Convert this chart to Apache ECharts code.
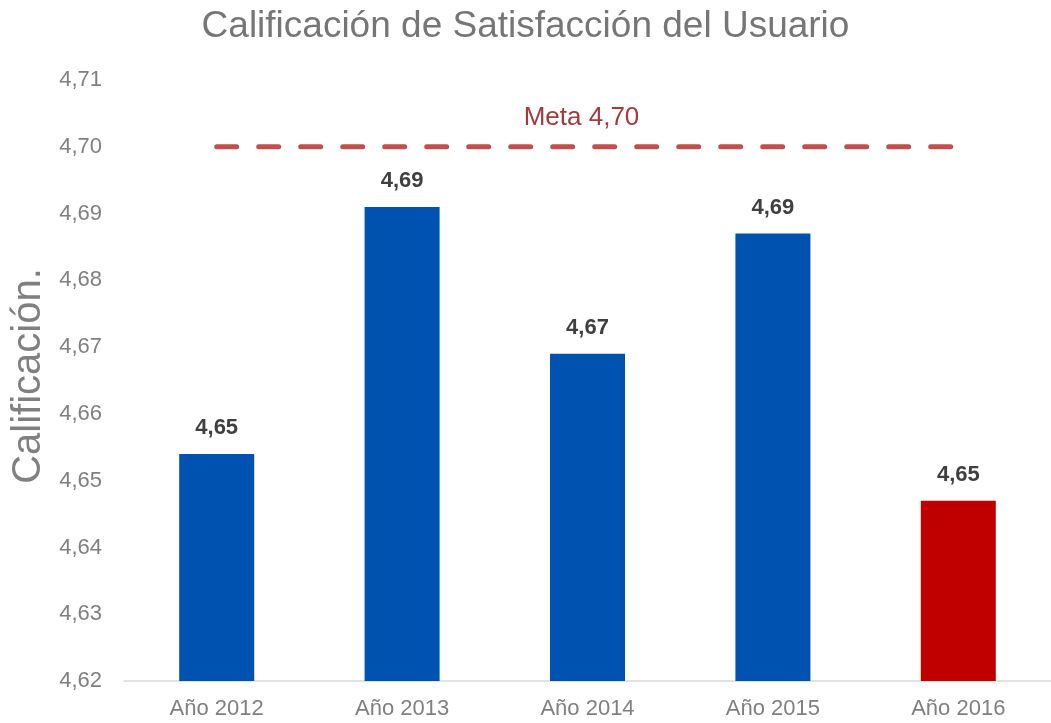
<!DOCTYPE html>
<html>
<head>
<meta charset="utf-8">
<script src="https://cdn.jsdelivr.net/npm/echarts@6/dist/echarts.min.js"></script>
<style>
  html, body { margin: 0; padding: 0; background: #fff; }
  #chart { width: 1051px; height: 723px; }
</style>
</head>
<body>
<div id="chart"></div>
<script>
// datos
var categorias = ['Año 2012', 'Año 2013', 'Año 2014', 'Año 2015', 'Año 2016'];
var calificaciones = [4.654, 4.691, 4.669, 4.687, 4.647];
var meta = [4.70, 4.70, 4.70, 4.70, 4.70];
var colores = ['#0052B0', '#0052B0', '#0052B0', '#0052B0', '#C00000'];

var chart = echarts.init(document.getElementById('chart'));

function coma(v, d) {
    return v.toFixed(d).replace('.', ',');
}

var barData = [];
for (var i = 0; i < calificaciones.length; i++) {
    barData.push({ value: calificaciones[i], itemStyle: { color: colores[i] } });
}

// la etiqueta "Meta 4,70" va sobre el punto central de la linea
var metaData = [];
for (var j = 0; j < meta.length; j++) {
    if (j == 2) {
        metaData.push({
            value: meta[j],
            label: {
                show: true,
                position: 'top',
                formatter: 'Meta 4,70',
                color: '#A33B3B',
                fontSize: 26,
                distance: 16,
                offset: [-6, 0]
            }
        });
    } else {
        metaData.push(meta[j]);
    }
}

var option = {
    animation: false,
    textStyle: { fontFamily: 'Liberation Sans, Arial, sans-serif' },
    title: {
        text: 'Calificación de Satisfacción del Usuario',
        left: 'center',
        top: 3,
        textStyle: { color: '#767676', fontSize: 37, fontWeight: 'normal' }
    },
    graphic: [{
        type: 'text',
        x: 9,
        y: 376,
        rotation: Math.PI / 2,
        style: {
            text: 'Calificación.',
            fill: '#808080',
            fontSize: 40,
            fontFamily: 'Liberation Sans, Arial, sans-serif',
            align: 'center',
            verticalAlign: 'top'
        }
    }],
    grid: { left: 124, top: 80, width: 937, height: 601, containLabel: false },
    xAxis: {
        type: 'category',
        data: categorias,
        axisLine: { lineStyle: { color: '#D9D9D9', width: 1.5 } },
        axisTick: { show: false },
        axisLabel: { color: '#808080', fontSize: 22, margin: 17 }
    },
    yAxis: {
        type: 'value',
        min: 4.62,
        max: 4.71,
        interval: 0.01,
        splitLine: { show: false },
        axisLine: { show: false },
        axisTick: { show: false },
        axisLabel: {
            color: '#808080',
            fontSize: 22,
            margin: 22,
            formatter: function (v) { return coma(v, 2); }
        }
    },
    series: [{
        type: 'bar',
        data: barData,
        barWidth: 75,
        label: {
            show: true,
            position: 'top',
            distance: 15,
            color: '#404040',
            fontSize: 22,
            fontWeight: 'bold',
            formatter: function (p) { return coma(p.value, 2); }
        }
    }, {
        type: 'line',
        data: metaData,
        symbol: 'circle',
        symbolSize: 0,
        showSymbol: true,
        showAllSymbol: true,
        itemStyle: { color: '#C0504D' },
        lineStyle: { color: '#C0504D', width: 5, type: [20, 22], cap: 'round' }
    }]
};

chart.setOption(option);
</script>
</body>
</html>
